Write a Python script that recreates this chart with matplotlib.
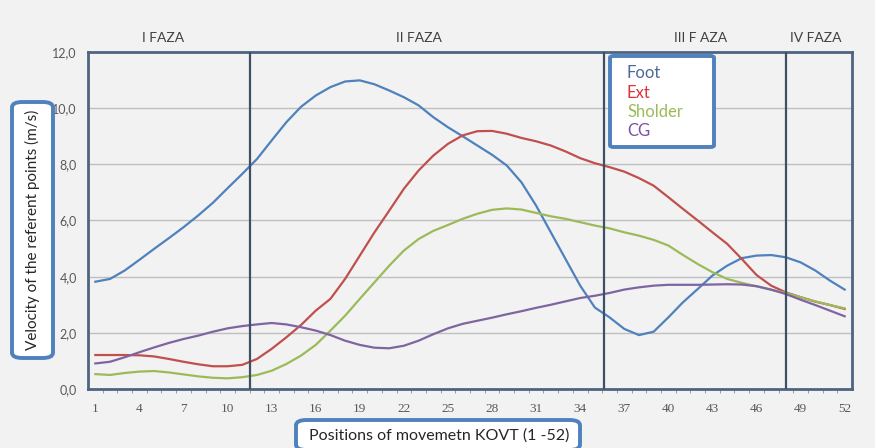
import matplotlib
matplotlib.use("Agg")
import matplotlib.pyplot as plt
from matplotlib.patches import FancyBboxPatch
import numpy as np

positions = list(range(1, 53))
foot = [3.82, 3.92, 4.22, 4.60, 4.99, 5.37, 5.76, 6.18, 6.63, 7.15,
        7.66, 8.19, 8.85, 9.50, 10.05, 10.45, 10.75, 10.95, 10.99, 10.85,
        10.63, 10.39, 10.10, 9.68, 9.32, 9.00, 8.67, 8.34, 7.96, 7.36,
        6.53, 5.58, 4.63, 3.68, 2.90, 2.55, 2.14, 1.92, 2.04, 2.55,
        3.09, 3.56, 4.04, 4.39, 4.66, 4.75, 4.77, 4.69, 4.51, 4.22,
        3.86, 3.54]
ext = [1.21, 1.21, 1.21, 1.20, 1.16, 1.07, 0.97, 0.88, 0.81, 0.81,
       0.86, 1.07, 1.43, 1.84, 2.28, 2.79, 3.21, 3.92, 4.75, 5.58,
       6.35, 7.13, 7.78, 8.31, 8.73, 9.03, 9.18, 9.19, 9.09, 8.94,
       8.82, 8.67, 8.46, 8.22, 8.04, 7.90, 7.74, 7.51, 7.24, 6.83,
       6.41, 6.00, 5.58, 5.17, 4.63, 4.06, 3.68, 3.44, 3.27, 3.11,
       2.99, 2.85]
sholder = [0.53, 0.50, 0.57, 0.62, 0.64, 0.59, 0.52, 0.45, 0.40, 0.38,
           0.42, 0.50, 0.65, 0.89, 1.19, 1.57, 2.08, 2.61, 3.21, 3.80,
           4.39, 4.93, 5.34, 5.63, 5.84, 6.06, 6.24, 6.38, 6.43, 6.39,
           6.27, 6.15, 6.06, 5.94, 5.82, 5.72, 5.58, 5.46, 5.31, 5.11,
           4.77, 4.45, 4.16, 3.92, 3.78, 3.66, 3.53, 3.42, 3.27, 3.12,
           2.99, 2.87]
cg = [0.91, 0.97, 1.13, 1.31, 1.48, 1.64, 1.78, 1.90, 2.04, 2.16,
      2.24, 2.30, 2.35, 2.30, 2.20, 2.08, 1.92, 1.72, 1.57, 1.47,
      1.45, 1.54, 1.72, 1.95, 2.16, 2.32, 2.43, 2.54, 2.66, 2.77,
      2.89, 3.00, 3.12, 3.24, 3.32, 3.42, 3.54, 3.62, 3.68, 3.71,
      3.71, 3.71, 3.72, 3.73, 3.72, 3.66, 3.54, 3.38, 3.18, 2.99,
      2.79, 2.59]
series_names = ["Foot", "Ext", "Sholder", "CG"]
series_colors = ["#4F81BD", "#C0504D", "#9BBB59", "#8064A2"]
legend_text_colors = ["#4A6A9A", "#E0303A", "#9BBB59", "#7A4FA0"]
phase_bounds = [11.5, 35.6, 48.0]
phase_labels = ["I FAZA", "II FAZA", "III F AZA", "IV FAZA"]
phase_label_x = [5.6, 23.0, 42.2, 50.0]
xtick_vals = list(range(1, 53, 3))
ytick_vals = [0, 2, 4, 6, 8, 10, 12]

plt.rcParams['font.family'] = ['Lato', 'DejaVu Sans']

W, H = 875, 448
fig = plt.figure(figsize=(W / 100, H / 100), dpi=100, facecolor="#F2F2F2")
ax = fig.add_axes([88 / W, 1 - 389 / H, (852 - 88) / W, (389 - 52) / H])
ax.set_facecolor("#F2F2F2")

for vals, c in zip([foot, ext, sholder, cg], series_colors):
    ax.plot(positions, vals, color=c, lw=1.6, zorder=3, solid_joinstyle="round")

ax.set_xlim(0.5, 52.5)
ax.set_ylim(0, 12)
ax.set_yticks(ytick_vals)
ax.set_yticklabels([f"{v:.1f}".replace(".", ",") for v in ytick_vals],
                   color="#595959", fontsize=9)
ax.yaxis.grid(True, color="#BFBFBF", lw=1.0)
ax.set_axisbelow(True)
ax.tick_params(axis="y", length=0, pad=8)

ax.set_xticks(xtick_vals)
ax.set_xticklabels([str(v) for v in xtick_vals], color="#595959",
                   fontsize=9.5, family="Liberation Serif")
ax.set_xticks([p + 0.5 for p in positions[:-1]], minor=True)
ax.tick_params(axis="x", which="major", length=0, pad=10)
ax.tick_params(axis="x", which="minor", length=3, color="#8C8C8C", direction="out")

for s in ax.spines.values():
    s.set_color("#4F6480")
    s.set_linewidth(2.0)

for b in phase_bounds:
    ax.axvline(b, color="#3F4F66", lw=1.6, zorder=4)

for lx, lab in zip(phase_label_x, phase_labels):
    ax.text(lx, 12.5, lab, ha="center", va="center", fontsize=10,
            color="#404040", clip_on=False)

# legend box
leg = FancyBboxPatch((610 / W, 1 - 147 / H), (714 - 610) / W, (147 - 56) / H,
                     boxstyle="round,pad=0,rounding_size=0.004",
                     transform=fig.transFigure, facecolor="white",
                     edgecolor="#4F81BD", lw=2.8, zorder=5)
fig.add_artist(leg)
for k, (name, tc) in enumerate(zip(series_names, legend_text_colors)):
    fig.text(627 / W, 1 - (73 + k * 19.5) / H, name, color=tc, fontsize=12,
             va="center", ha="left", zorder=6)

# y label box
yb = FancyBboxPatch((12 / W, 1 - 358 / H), (53 - 12) / W, (358 - 102) / H,
                    boxstyle="round,pad=0,rounding_size=0.012",
                    transform=fig.transFigure, facecolor="white",
                    edgecolor="#4F81BD", lw=2.8, zorder=5)
fig.add_artist(yb)
fig.text(32 / W, 1 - 230 / H, "Velocity of the referent points (m/s)",
         rotation=90, ha="center", va="center", fontsize=11,
         color="#262626", zorder=6)

# x label box
xb = FancyBboxPatch((296 / W, 1 - 450 / H), (580 - 296) / W, (450 - 420) / H,
                    boxstyle="round,pad=0,rounding_size=0.012",
                    transform=fig.transFigure, facecolor="white",
                    edgecolor="#4F81BD", lw=2.8, zorder=5)
fig.add_artist(xb)
fig.text(439 / W, 1 - 436 / H, "Positions of movemetn KOVT (1 -52)",
         ha="center", va="center", fontsize=11.5, color="#262626", zorder=6)

fig.savefig("out.png", dpi=100, facecolor=fig.get_facecolor())
